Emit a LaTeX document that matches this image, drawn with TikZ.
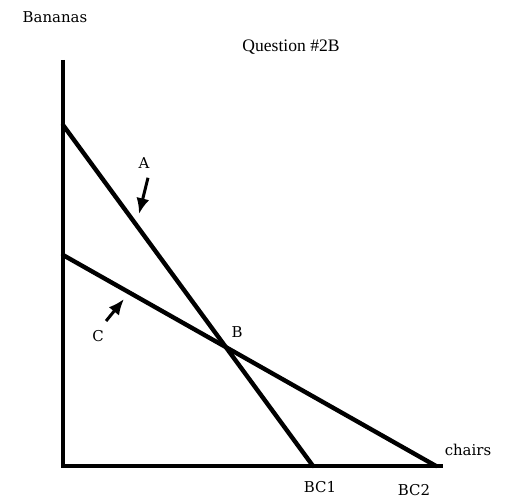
\documentclass[tikz,border=0pt]{standalone}
\usepackage{fontspec}
\setmainfont{Liberation Serif}
\newfontfamily\rotulo{DejaVu Serif}
\usetikzlibrary{positioning, arrows.meta}
\tikzset{
    eje/.style={line width=2.8pt},
    recta/.style={line width=2.5pt, line cap=round},
    flecha/.style={-{Latex[length=9pt, width=7.5pt]}, line width=1.7pt},
    etiqueta/.style={inner sep=0pt, font=\rotulo\fontsize{8.5}{10}\selectfont}
}
\begin{document}
\begin{tikzpicture}[x=0.02cm, y=-0.02cm]
    % Marco del dibujo
    \useasboundingbox (0,0) rectangle (505,497);

    % Puntos de los ejes y las rectas
    \coordinate (origen) at (63,466);
    \coordinate (tope) at (63,60);
    \coordinate (finx) at (443,466);
    \coordinate (bc1_y) at (63,125);
    \coordinate (bc1_x) at (313,466);
    \coordinate (bc2_y) at (63,255);
    \coordinate (bc2_x) at (436,466);

    % Ejes
    \draw[eje] (tope) -- (origen) -- (finx);

    % Restricciones presupuestarias
    \draw[recta] (bc1_y) -- (bc1_x);
    \draw[recta] (bc2_y) -- (bc2_x);

    % Textos
    \node[etiqueta] (bananas) at (55,17) {Bananas};
    \node[inner sep=0pt, font=\fontsize{10}{12}\selectfont] (titulo) at (291,47) {Question \#2B};
    \node[etiqueta] (sillas) at (468,450) {chairs};
    \node[etiqueta] (bc1) at (320,487) {BC1};
    \node[etiqueta] (bc2) at (414,490) {BC2};
    \node[etiqueta] (b) at (237,332) {B};
    \node[etiqueta] (a) at (144,163) {A};
    \node[etiqueta] (c) at (98,336) {C};

    % Flechas de las etiquetas
    \coordinate (a_punta) at (139,214);
    \coordinate (c_punta) at (124,299);
    \draw[flecha] ([shift={(4,9)}]a.south) -- (a_punta);
    \draw[flecha] ([shift={(2,-9)}]c.north east) -- (c_punta);
\end{tikzpicture}
\end{document}
